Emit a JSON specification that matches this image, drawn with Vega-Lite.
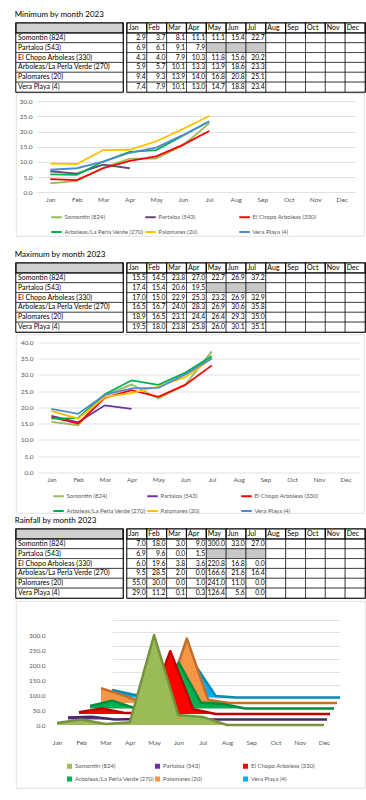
{
  "$schema": "https://vega.github.io/schema/vega-lite/v6.json",
  "background": "#ffffff",
  "padding": {"left": 14, "top": 10, "right": 0, "bottom": 0},
  "datasets": {
    "min": [
      {"station": "Somontin (824)", "Jan": 2.9, "Feb": 3.7, "Mar": 8.1, "Apr": 11.1, "May": 11.1, "Jun": 15.4, "Jul": 22.7},
      {"station": "Partaloa (543)", "Jan": 6.9, "Feb": 6.1, "Mar": 9.1, "Apr": 7.9, "May": null, "Jun": null, "Jul": null},
      {"station": "El Chopo Arboleas (330)", "Jan": 4.3, "Feb": 4.0, "Mar": 7.9, "Apr": 10.3, "May": 11.8, "Jun": 15.6, "Jul": 20.2},
      {"station": "Arboleas/La Perla Verde (270)", "Jan": 5.9, "Feb": 5.7, "Mar": 10.1, "Apr": 13.3, "May": 13.9, "Jun": 18.6, "Jul": 23.3},
      {"station": "Palomares (20)", "Jan": 9.4, "Feb": 9.3, "Mar": 13.9, "Apr": 14.0, "May": 16.8, "Jun": 20.8, "Jul": 25.1},
      {"station": "Vera Playa (4)", "Jan": 7.4, "Feb": 7.9, "Mar": 10.1, "Apr": 13.0, "May": 14.7, "Jun": 18.8, "Jul": 23.4}
    ],
    "max": [
      {"station": "Somontin (824)", "Jan": 15.5, "Feb": 14.5, "Mar": 23.8, "Apr": 27.0, "May": 22.7, "Jun": 26.9, "Jul": 37.2},
      {"station": "Partaloa (543)", "Jan": 17.4, "Feb": 15.4, "Mar": 20.6, "Apr": 19.5, "May": null, "Jun": null, "Jul": null},
      {"station": "El Chopo Arboleas (330)", "Jan": 17.0, "Feb": 15.0, "Mar": 22.9, "Apr": 25.3, "May": 23.2, "Jun": 26.9, "Jul": 32.9},
      {"station": "Arboleas/La Perla Verde (270)", "Jan": 16.5, "Feb": 16.7, "Mar": 24.0, "Apr": 28.3, "May": 26.9, "Jun": 30.6, "Jul": 35.8},
      {"station": "Palomares (20)", "Jan": 18.9, "Feb": 16.5, "Mar": 23.1, "Apr": 24.4, "May": 26.4, "Jun": 29.3, "Jul": 35.0},
      {"station": "Vera Playa (4)", "Jan": 19.5, "Feb": 18.0, "Mar": 23.8, "Apr": 25.8, "May": 26.0, "Jun": 30.1, "Jul": 35.1}
    ],
    "rain": [
      {"station": "Somontin (824)", "Jan": 7.0, "Feb": 18.0, "Mar": 3.0, "Apr": 9.0, "May": 300.0, "Jun": 33.0, "Jul": 27.0},
      {"station": "Partaloa (543)", "Jan": 6.9, "Feb": 9.6, "Mar": 0.0, "Apr": 1.5, "May": null, "Jun": null, "Jul": null},
      {"station": "El Chopo Arboleas (330)", "Jan": 6.0, "Feb": 19.6, "Mar": 3.8, "Apr": 3.6, "May": 220.8, "Jun": 16.8, "Jul": 0.0},
      {"station": "Arboleas/La Perla Verde (270)", "Jan": 9.5, "Feb": 28.5, "Mar": 2.0, "Apr": 0.0, "May": 166.6, "Jun": 21.6, "Jul": 16.4},
      {"station": "Palomares (20)", "Jan": 55.0, "Feb": 30.0, "Mar": 0.0, "Apr": 1.0, "May": 241.0, "Jun": 11.0, "Jul": 0.0},
      {"station": "Vera Playa (4)", "Jan": 29.0, "Feb": 11.2, "Mar": 0.1, "Apr": 0.3, "May": 126.4, "Jun": 5.6, "Jul": 0.0}
    ]
  },
  "resolve": {"scale": {"color": "independent"}, "legend": {"color": "independent"}},
  "spacing": 0,
  "vconcat": [
    {
      "resolve": {"scale": {"color": "independent"}, "legend": {"color": "independent"}},
      "spacing": 13,
      "vconcat": [
        {
          "resolve": {"scale": {"color": "independent"}, "legend": {"color": "independent"}},
          "spacing": -1,
          "vconcat": [
            {
              "title": {"text": "Minimum by month 2023", "fontSize": 8, "fontWeight": "normal", "font": "Lato", "color": "#000000", "anchor": "start", "offset": 3},
              "spacing": 0,
              "hconcat": [
                {
                  "width": 107, "height": 69,
                  "view": {"stroke": "#000000", "strokeWidth": 1.4},
                  "data": {"name": "min"},
                  "encoding": {
                    "x": {"datum": "label", "type": "nominal", "scale": {"type": "band", "domain": ["label"], "padding": 0}, "axis": null},
                    "y": {"field": "station", "type": "nominal", "scale": {"type": "band", "domain": ["hdr", "Somontin (824)", "Partaloa (543)", "El Chopo Arboleas (330)", "Arboleas/La Perla Verde (270)", "Palomares (20)", "Vera Playa (4)"], "padding": 0}, "axis": null}
                  },
                  "layer": [
                    {"mark": {"type": "rect", "fill": "#ffffff", "stroke": "#000000", "strokeWidth": 0.6}},
                    {"transform": [{"filter": "datum.station === 'Somontin (824)'"}], "mark": {"type": "rect", "fill": "#d0d0d0", "stroke": "#000000", "strokeWidth": 1.2}, "encoding": {"y": {"datum": "hdr", "type": "nominal"}}},
                    {"mark": {"type": "text", "align": "left", "baseline": "middle", "dx": 2, "fontSize": 7}, "encoding": {"x": {"datum": "label", "type": "nominal", "bandPosition": 0}, "text": {"field": "station"}}}
                  ]
                },
                {
                  "width": 238, "height": 69,
                  "view": {"stroke": "#000000", "strokeWidth": 1.4},
                  "data": {"name": "min"},
                  "transform": [{"fold": ["Jan","Feb","Mar","Apr","May","Jun","Jul","Aug","Sep","Oct","Nov","Dec"], "as": ["month", "value"]}],
                  "encoding": {
                    "x": {"field": "month", "type": "nominal", "scale": {"type": "band", "domain": ["Jan","Feb","Mar","Apr","May","Jun","Jul","Aug","Sep","Oct","Nov","Dec"], "padding": 0}, "axis": null},
                    "y": {"field": "station", "type": "nominal", "scale": {"type": "band", "domain": ["hdr", "Somontin (824)", "Partaloa (543)", "El Chopo Arboleas (330)", "Arboleas/La Perla Verde (270)", "Palomares (20)", "Vera Playa (4)"], "padding": 0}, "axis": null}
                  },
                  "layer": [
                    {"mark": {"type": "rect", "stroke": "#000000", "strokeWidth": 0.6}, "encoding": {"fill": {"condition": {"test": "datum.value === null", "value": "#c8c8c8"}, "value": "#ffffff"}}},
                    {"transform": [{"filter": "isValid(datum.value)"}], "mark": {"type": "text", "align": "right", "baseline": "middle", "dx": -1.2, "fontSize": 6.8}, "encoding": {"x": {"field": "month", "type": "nominal", "bandPosition": 1}, "text": {"field": "value", "type": "quantitative", "format": ".1f"}}},
                    {"transform": [{"filter": "datum.station === 'Somontin (824)'"}], "mark": {"type": "rect", "fill": "#ffffff", "stroke": "#000000", "strokeWidth": 1.2}, "encoding": {"y": {"datum": "hdr", "type": "nominal"}}},
                    {"transform": [{"filter": "datum.station === 'Somontin (824)'"}], "mark": {"type": "text", "align": "left", "baseline": "middle", "dx": 1.5, "fontSize": 7}, "encoding": {"y": {"datum": "hdr", "type": "nominal"}, "x": {"field": "month", "type": "nominal", "bandPosition": 0}, "text": {"field": "month"}}}
                  ]
                }
              ]
            },
            {
              "width": 348, "height": 143,
              "view": {"stroke": "#d9d9d9", "strokeWidth": 0.8},
              "data": {"name": "min"},
              "transform": [{"fold": ["Jan","Feb","Mar","Apr","May","Jun","Jul","Aug","Sep","Oct","Nov","Dec"], "as": ["month", "value"]}, {"filter": "isValid(datum.value)"}],
              "mark": {"type": "line", "strokeWidth": 1.8},
              "encoding": {
                "x": {"field": "month", "type": "ordinal", "scale": {"type": "point", "domain": ["Jan","Feb","Mar","Apr","May","Jun","Jul","Aug","Sep","Oct","Nov","Dec"], "range": [21, 339], "padding": 0.5},
                      "axis": {"orient": "bottom", "offset": -43.8, "domain": false, "ticks": false, "grid": false, "labelPadding": 4.5, "labelAngle": 0, "title": null}},
                "y": {"field": "value", "type": "quantitative", "scale": {"domain": [0, 30], "range": [99.2, 8.2], "nice": false},
                      "axis": {"orient": "left", "offset": -21, "values": [0, 5, 10, 15, 20, 25, 30], "format": ".1f", "domain": false, "ticks": false, "labelPadding": 5, "grid": true, "gridColor": "#d9d9d9", "gridWidth": 0.8, "title": null}},
                "color": {"field": "station", "type": "nominal",
                          "scale": {"domain": ["Somontin (824)", "Partaloa (543)", "El Chopo Arboleas (330)", "Arboleas/La Perla Verde (270)", "Palomares (20)", "Vera Playa (4)"], "range": ["#9bbb59", "#5f497a", "#ff0000", "#00b050", "#ffc000", "#4f8ad0"]},
                          "legend": {"orient": "none", "legendX": 34, "legendY": 117.5, "direction": "horizontal", "columns": 3, "gridAlign": "all", "title": null, "symbolType": "stroke", "symbolSize": 110, "symbolStrokeWidth": 2, "labelOffset": 1.5, "columnPadding": -7, "rowPadding": 4, "labelLimit": 200}}
              }
            }
          ]
        },
        {
          "resolve": {"scale": {"color": "independent"}, "legend": {"color": "independent"}},
          "spacing": 0.5,
          "vconcat": [
            {
              "title": {"text": "Maximum by month 2023", "fontSize": 8, "fontWeight": "normal", "font": "Lato", "color": "#000000", "anchor": "start", "offset": 3},
              "spacing": 0,
              "hconcat": [
                {
                  "width": 107, "height": 69,
                  "view": {"stroke": "#000000", "strokeWidth": 1.4},
                  "data": {"name": "max"},
                  "encoding": {
                    "x": {"datum": "label", "type": "nominal", "scale": {"type": "band", "domain": ["label"], "padding": 0}, "axis": null},
                    "y": {"field": "station", "type": "nominal", "scale": {"type": "band", "domain": ["hdr", "Somontin (824)", "Partaloa (543)", "El Chopo Arboleas (330)", "Arboleas/La Perla Verde (270)", "Palomares (20)", "Vera Playa (4)"], "padding": 0}, "axis": null}
                  },
                  "layer": [
                    {"mark": {"type": "rect", "fill": "#ffffff", "stroke": "#000000", "strokeWidth": 0.6}},
                    {"transform": [{"filter": "datum.station === 'Somontin (824)'"}], "mark": {"type": "rect", "fill": "#d0d0d0", "stroke": "#000000", "strokeWidth": 1.2}, "encoding": {"y": {"datum": "hdr", "type": "nominal"}}},
                    {"mark": {"type": "text", "align": "left", "baseline": "middle", "dx": 2, "fontSize": 7}, "encoding": {"x": {"datum": "label", "type": "nominal", "bandPosition": 0}, "text": {"field": "station"}}}
                  ]
                },
                {
                  "width": 238, "height": 69,
                  "view": {"stroke": "#000000", "strokeWidth": 1.4},
                  "data": {"name": "max"},
                  "transform": [{"fold": ["Jan","Feb","Mar","Apr","May","Jun","Jul","Aug","Sep","Oct","Nov","Dec"], "as": ["month", "value"]}],
                  "encoding": {
                    "x": {"field": "month", "type": "nominal", "scale": {"type": "band", "domain": ["Jan","Feb","Mar","Apr","May","Jun","Jul","Aug","Sep","Oct","Nov","Dec"], "padding": 0}, "axis": null},
                    "y": {"field": "station", "type": "nominal", "scale": {"type": "band", "domain": ["hdr", "Somontin (824)", "Partaloa (543)", "El Chopo Arboleas (330)", "Arboleas/La Perla Verde (270)", "Palomares (20)", "Vera Playa (4)"], "padding": 0}, "axis": null}
                  },
                  "layer": [
                    {"mark": {"type": "rect", "stroke": "#000000", "strokeWidth": 0.6}, "encoding": {"fill": {"condition": {"test": "datum.value === null", "value": "#c8c8c8"}, "value": "#ffffff"}}},
                    {"transform": [{"filter": "isValid(datum.value)"}], "mark": {"type": "text", "align": "right", "baseline": "middle", "dx": -1.2, "fontSize": 6.8}, "encoding": {"x": {"field": "month", "type": "nominal", "bandPosition": 1}, "text": {"field": "value", "type": "quantitative", "format": ".1f"}}},
                    {"transform": [{"filter": "datum.station === 'Somontin (824)'"}], "mark": {"type": "rect", "fill": "#ffffff", "stroke": "#000000", "strokeWidth": 1.2}, "encoding": {"y": {"datum": "hdr", "type": "nominal"}}},
                    {"transform": [{"filter": "datum.station === 'Somontin (824)'"}], "mark": {"type": "text", "align": "left", "baseline": "middle", "dx": 1.5, "fontSize": 7}, "encoding": {"y": {"datum": "hdr", "type": "nominal"}, "x": {"field": "month", "type": "nominal", "bandPosition": 0}, "text": {"field": "month"}}}
                  ]
                }
              ]
            },
            {
              "width": 348, "height": 178.5,
              "view": {"stroke": "#d9d9d9", "strokeWidth": 0.8},
              "data": {"name": "max"},
              "transform": [{"fold": ["Jan","Feb","Mar","Apr","May","Jun","Jul","Aug","Sep","Oct","Nov","Dec"], "as": ["month", "value"]}, {"filter": "isValid(datum.value)"}],
              "mark": {"type": "line", "strokeWidth": 1.8},
              "encoding": {
                "x": {"field": "month", "type": "ordinal", "scale": {"type": "point", "domain": ["Jan","Feb","Mar","Apr","May","Jun","Jul","Aug","Sep","Oct","Nov","Dec"], "range": [22, 343], "padding": 0.5},
                      "axis": {"orient": "bottom", "offset": -40.7, "domain": false, "ticks": false, "grid": false, "labelPadding": 4.5, "labelAngle": 0, "title": null}},
                "y": {"field": "value", "type": "quantitative", "scale": {"domain": [0, 40], "range": [137.8, 7.8], "nice": false},
                      "axis": {"orient": "left", "offset": -22, "values": [0, 5, 10, 15, 20, 25, 30, 35, 40], "format": ".1f", "domain": false, "ticks": false, "labelPadding": 5, "grid": true, "gridColor": "#d9d9d9", "gridWidth": 0.8, "title": null}},
                "color": {"field": "station", "type": "nominal",
                          "scale": {"domain": ["Somontin (824)", "Partaloa (543)", "El Chopo Arboleas (330)", "Arboleas/La Perla Verde (270)", "Palomares (20)", "Vera Playa (4)"], "range": ["#9bbb59", "#7030a0", "#ff0000", "#00b050", "#ffc000", "#4f8ad0"]},
                          "legend": {"orient": "none", "legendX": 36, "legendY": 155, "direction": "horizontal", "columns": 3, "gridAlign": "all", "title": null, "symbolType": "stroke", "symbolSize": 110, "symbolStrokeWidth": 2, "labelOffset": 1.5, "columnPadding": -7, "rowPadding": 4, "labelLimit": 200}}
              }
            }
          ]
        }
      ]
    },
    {
      "resolve": {"scale": {"color": "independent"}, "legend": {"color": "independent"}},
      "spacing": 1,
      "vconcat": [
        {
          "title": {"text": "Rainfall by month 2023", "fontSize": 8, "fontWeight": "normal", "font": "Lato", "color": "#000000", "anchor": "start", "offset": 3},
          "spacing": 0,
          "hconcat": [
            {
              "width": 107, "height": 69,
              "view": {"stroke": "#000000", "strokeWidth": 1.4},
              "data": {"name": "rain"},
              "encoding": {
                "x": {"datum": "label", "type": "nominal", "scale": {"type": "band", "domain": ["label"], "padding": 0}, "axis": null},
                "y": {"field": "station", "type": "nominal", "scale": {"type": "band", "domain": ["hdr", "Somontin (824)", "Partaloa (543)", "El Chopo Arboleas (330)", "Arboleas/La Perla Verde (270)", "Palomares (20)", "Vera Playa (4)"], "padding": 0}, "axis": null}
              },
              "layer": [
                {"mark": {"type": "rect", "fill": "#ffffff", "stroke": "#000000", "strokeWidth": 0.6}},
                {"transform": [{"filter": "datum.station === 'Somontin (824)'"}], "mark": {"type": "rect", "fill": "#d0d0d0", "stroke": "#000000", "strokeWidth": 1.2}, "encoding": {"y": {"datum": "hdr", "type": "nominal"}}},
                {"mark": {"type": "text", "align": "left", "baseline": "middle", "dx": 2, "fontSize": 7}, "encoding": {"x": {"datum": "label", "type": "nominal", "bandPosition": 0}, "text": {"field": "station"}}}
              ]
            },
            {
              "width": 238, "height": 69,
              "view": {"stroke": "#000000", "strokeWidth": 1.4},
              "data": {"name": "rain"},
              "transform": [{"fold": ["Jan","Feb","Mar","Apr","May","Jun","Jul","Aug","Sep","Oct","Nov","Dec"], "as": ["month", "value"]}],
              "encoding": {
                "x": {"field": "month", "type": "nominal", "scale": {"type": "band", "domain": ["Jan","Feb","Mar","Apr","May","Jun","Jul","Aug","Sep","Oct","Nov","Dec"], "padding": 0}, "axis": null},
                "y": {"field": "station", "type": "nominal", "scale": {"type": "band", "domain": ["hdr", "Somontin (824)", "Partaloa (543)", "El Chopo Arboleas (330)", "Arboleas/La Perla Verde (270)", "Palomares (20)", "Vera Playa (4)"], "padding": 0}, "axis": null}
              },
              "layer": [
                {"mark": {"type": "rect", "stroke": "#000000", "strokeWidth": 0.6}, "encoding": {"fill": {"condition": {"test": "datum.value === null", "value": "#c8c8c8"}, "value": "#ffffff"}}},
                {"transform": [{"filter": "isValid(datum.value)"}], "mark": {"type": "text", "align": "right", "baseline": "middle", "dx": -1.2, "fontSize": 6.8}, "encoding": {"x": {"field": "month", "type": "nominal", "bandPosition": 1}, "text": {"field": "value", "type": "quantitative", "format": ".1f"}}},
                {"transform": [{"filter": "datum.station === 'Somontin (824)'"}], "mark": {"type": "rect", "fill": "#ffffff", "stroke": "#000000", "strokeWidth": 1.2}, "encoding": {"y": {"datum": "hdr", "type": "nominal"}}},
                {"transform": [{"filter": "datum.station === 'Somontin (824)'"}], "mark": {"type": "text", "align": "left", "baseline": "middle", "dx": 1.5, "fontSize": 7}, "encoding": {"y": {"datum": "hdr", "type": "nominal"}, "x": {"field": "month", "type": "nominal", "bandPosition": 0}, "text": {"field": "month"}}}
              ]
            }
          ]
        },
        {
          "width": 349, "height": 187,
          "view": {"stroke": "#d9d9d9", "strokeWidth": 0.8},
          "data": {"name": "rain"},
          "transform": [{"fold": ["Jan","Feb","Mar","Apr","May","Jun","Jul","Aug","Sep","Oct","Nov","Dec"], "as": ["month", "value"]}],
          "resolve": {"scale": {"x": "independent", "y": "independent"}, "axis": {"x": "independent", "y": "independent"}},
          "layer": [
            {
              "transform": [{"filter": "datum.station === 'Vera Playa (4)'"}],
              "encoding": {
                "x": {"field": "month", "type": "ordinal", "scale": {"type": "point", "domain": ["Jan","Feb","Mar","Apr","May","Jun","Jul","Aug","Sep","Oct","Nov","Dec"], "range": [96, 324], "padding": 0}, "axis": null},
                "y": {"field": "value", "type": "quantitative", "stack": null, "scale": {"domain": [0, 300], "range": [96.5, 18.5], "nice": false},
                      "axis": {"values": [0, 50, 100, 150, 200, 250, 300], "labels": false, "ticks": false, "domain": false, "grid": true, "gridColor": "#d9d9d9", "gridWidth": 0.8, "title": null}}
              },
              "layer": [
                {"mark": {"type": "area", "invalid": "show"}, "encoding": {"color": {"field": "station", "type": "nominal", "scale": {"domain": ["Somontin (824)", "Partaloa (543)", "El Chopo Arboleas (330)", "Arboleas/La Perla Verde (270)", "Palomares (20)", "Vera Playa (4)"], "range": ["#9bbb59", "#7030a0", "#ff0000", "#00b050", "#f79646", "#00b0f0"]}, "legend": {"orient": "none", "legendX": 50, "legendY": 161.5, "direction": "horizontal", "columns": 3, "gridAlign": "all", "title": null, "symbolType": "square", "symbolSize": 25, "labelOffset": 2, "columnPadding": -7, "rowPadding": 6, "labelLimit": 200}}}},
                {"mark": {"type": "line", "invalid": "show", "stroke": "#0089bb", "strokeWidth": 2.5, "strokeJoin": "round"}}
              ]
            },
            {
              "transform": [{"filter": "datum.station === 'Palomares (20)'"}],
              "encoding": {
                "x": {"field": "month", "type": "ordinal", "scale": {"type": "point", "domain": ["Jan","Feb","Mar","Apr","May","Jun","Jul","Aug","Sep","Oct","Nov","Dec"], "range": [85, 321], "padding": 0}, "axis": null},
                "y": {"field": "value", "type": "quantitative", "stack": null, "scale": {"domain": [0, 300], "range": [102, 21.6], "nice": false}, "axis": null}
              },
              "layer": [
                {"mark": {"type": "area", "invalid": "show"}, "encoding": {"color": {"field": "station", "type": "nominal", "scale": {"domain": ["Somontin (824)", "Partaloa (543)", "El Chopo Arboleas (330)", "Arboleas/La Perla Verde (270)", "Palomares (20)", "Vera Playa (4)"], "range": ["#9bbb59", "#7030a0", "#ff0000", "#00b050", "#f79646", "#00b0f0"]}, "legend": {"orient": "none", "legendX": 50, "legendY": 161.5, "direction": "horizontal", "columns": 3, "gridAlign": "all", "title": null, "symbolType": "square", "symbolSize": 25, "labelOffset": 2, "columnPadding": -7, "rowPadding": 6, "labelLimit": 200}}}},
                {"mark": {"type": "line", "invalid": "show", "stroke": "#c0702c", "strokeWidth": 2.5, "strokeJoin": "round"}}
              ]
            },
            {
              "transform": [{"filter": "datum.station === 'Arboleas/La Perla Verde (270)'"}],
              "encoding": {
                "x": {"field": "month", "type": "ordinal", "scale": {"type": "point", "domain": ["Jan","Feb","Mar","Apr","May","Jun","Jul","Aug","Sep","Oct","Nov","Dec"], "range": [74, 318], "padding": 0}, "axis": null},
                "y": {"field": "value", "type": "quantitative", "stack": null, "scale": {"domain": [0, 300], "range": [107.5, 24.7], "nice": false}, "axis": null}
              },
              "layer": [
                {"mark": {"type": "area", "invalid": "show"}, "encoding": {"color": {"field": "station", "type": "nominal", "scale": {"domain": ["Somontin (824)", "Partaloa (543)", "El Chopo Arboleas (330)", "Arboleas/La Perla Verde (270)", "Palomares (20)", "Vera Playa (4)"], "range": ["#9bbb59", "#7030a0", "#ff0000", "#00b050", "#f79646", "#00b0f0"]}, "legend": {"orient": "none", "legendX": 50, "legendY": 161.5, "direction": "horizontal", "columns": 3, "gridAlign": "all", "title": null, "symbolType": "square", "symbolSize": 25, "labelOffset": 2, "columnPadding": -7, "rowPadding": 6, "labelLimit": 200}}}},
                {"mark": {"type": "line", "invalid": "show", "stroke": "#008a3e", "strokeWidth": 2.5, "strokeJoin": "round"}}
              ]
            },
            {
              "transform": [{"filter": "datum.station === 'El Chopo Arboleas (330)'"}],
              "encoding": {
                "x": {"field": "month", "type": "ordinal", "scale": {"type": "point", "domain": ["Jan","Feb","Mar","Apr","May","Jun","Jul","Aug","Sep","Oct","Nov","Dec"], "range": [63, 314], "padding": 0}, "axis": null},
                "y": {"field": "value", "type": "quantitative", "stack": null, "scale": {"domain": [0, 300], "range": [113, 27.8], "nice": false}, "axis": null}
              },
              "layer": [
                {"mark": {"type": "area", "invalid": "show"}, "encoding": {"color": {"field": "station", "type": "nominal", "scale": {"domain": ["Somontin (824)", "Partaloa (543)", "El Chopo Arboleas (330)", "Arboleas/La Perla Verde (270)", "Palomares (20)", "Vera Playa (4)"], "range": ["#9bbb59", "#7030a0", "#ff0000", "#00b050", "#f79646", "#00b0f0"]}, "legend": {"orient": "none", "legendX": 50, "legendY": 161.5, "direction": "horizontal", "columns": 3, "gridAlign": "all", "title": null, "symbolType": "square", "symbolSize": 25, "labelOffset": 2, "columnPadding": -7, "rowPadding": 6, "labelLimit": 200}}}},
                {"mark": {"type": "line", "invalid": "show", "stroke": "#c00000", "strokeWidth": 2.5, "strokeJoin": "round"}}
              ]
            },
            {
              "transform": [{"filter": "datum.station === 'Partaloa (543)'"}],
              "encoding": {
                "x": {"field": "month", "type": "ordinal", "scale": {"type": "point", "domain": ["Jan","Feb","Mar","Apr","May","Jun","Jul","Aug","Sep","Oct","Nov","Dec"], "range": [52, 311], "padding": 0}, "axis": null},
                "y": {"field": "value", "type": "quantitative", "stack": null, "scale": {"domain": [0, 300], "range": [118.5, 30.9], "nice": false}, "axis": null}
              },
              "layer": [
                {"mark": {"type": "area", "invalid": "show"}, "encoding": {"color": {"field": "station", "type": "nominal", "scale": {"domain": ["Somontin (824)", "Partaloa (543)", "El Chopo Arboleas (330)", "Arboleas/La Perla Verde (270)", "Palomares (20)", "Vera Playa (4)"], "range": ["#9bbb59", "#7030a0", "#ff0000", "#00b050", "#f79646", "#00b0f0"]}, "legend": {"orient": "none", "legendX": 50, "legendY": 161.5, "direction": "horizontal", "columns": 3, "gridAlign": "all", "title": null, "symbolType": "square", "symbolSize": 25, "labelOffset": 2, "columnPadding": -7, "rowPadding": 6, "labelLimit": 200}}}},
                {"mark": {"type": "line", "invalid": "show", "stroke": "#4f2270", "strokeWidth": 2.5, "strokeJoin": "round"}}
              ]
            },
            {
              "transform": [{"filter": "datum.station === 'Somontin (824)'"}],
              "encoding": {
                "x": {"field": "month", "type": "ordinal", "scale": {"type": "point", "domain": ["Jan","Feb","Mar","Apr","May","Jun","Jul","Aug","Sep","Oct","Nov","Dec"], "range": [41, 308], "padding": 0},
                      "axis": {"orient": "bottom", "offset": -52, "labelPadding": 3, "domain": false, "ticks": false, "grid": false, "labelAngle": 0, "title": null}},
                "y": {"field": "value", "type": "quantitative", "stack": null, "scale": {"domain": [0, 300], "range": [124, 34], "nice": false},
                      "axis": {"orient": "left", "offset": -31, "values": [0, 50, 100, 150, 200, 250, 300], "format": ".1f", "labelPadding": 2, "domain": false, "ticks": false, "grid": false, "title": null}}
              },
              "layer": [
                {"mark": {"type": "area", "invalid": "show"}, "encoding": {"color": {"field": "station", "type": "nominal", "scale": {"domain": ["Somontin (824)", "Partaloa (543)", "El Chopo Arboleas (330)", "Arboleas/La Perla Verde (270)", "Palomares (20)", "Vera Playa (4)"], "range": ["#9bbb59", "#7030a0", "#ff0000", "#00b050", "#f79646", "#00b0f0"]}, "legend": {"orient": "none", "legendX": 50, "legendY": 161.5, "direction": "horizontal", "columns": 3, "gridAlign": "all", "title": null, "symbolType": "square", "symbolSize": 25, "labelOffset": 2, "columnPadding": -7, "rowPadding": 6, "labelLimit": 200}}}},
                {"mark": {"type": "line", "invalid": "show", "stroke": "#76923c", "strokeWidth": 2.5, "strokeJoin": "round"}}
              ]
            }
          ]
        }
      ]
    }
  ],
  "config": {
    "font": "Lato",
    "view": {"stroke": null},
    "axis": {"labelFont": "Lato", "labelFontSize": 6.5, "labelColor": "#595959"},
    "legend": {"labelFont": "Lato", "labelFontSize": 6, "labelColor": "#595959"},
    "title": {"font": "Lato", "fontSize": 8, "fontWeight": "normal", "color": "#000000", "anchor": "start", "offset": 3},
    "text": {"font": "Lato", "fontSize": 7, "fontWeight": "normal", "color": "#000000"}
  }
}
